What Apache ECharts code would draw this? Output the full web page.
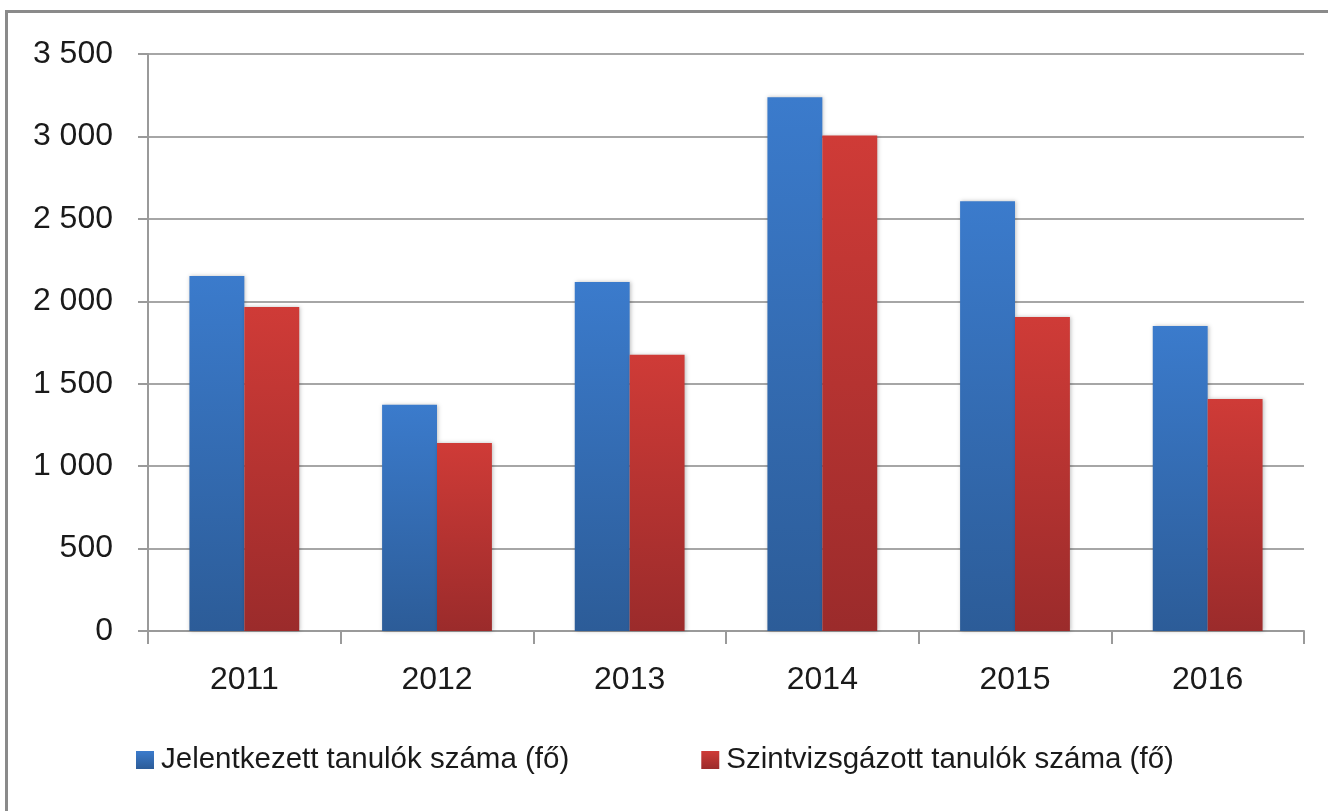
<!DOCTYPE html>
<html>
<head>
<meta charset="utf-8">
<script src="https://cdn.jsdelivr.net/npm/echarts@6/dist/echarts.min.js"></script>
<style>
html,body{margin:0;padding:0;background:#fff;}
#chart{width:1328px;height:811px;}
</style>
</head>
<body>
<div id="chart"></div>
<script>
const categories = ['2011', '2012', '2013', '2014', '2015', '2016'];
const seriesNames = ['Jelentkezett tanulók száma (fő)', 'Szintvizsgázott tanulók száma (fő)'];
const jelentkezett = [2153, 1372, 2117, 3237, 2607, 1850];
const szintvizsgazott = [1966, 1140, 1675, 3005, 1905, 1407];
const yTicks = [0, 500, 1000, 1500, 2000, 2500, 3000, 3500];

const FONT = 'Liberation Sans';
const chart = echarts.init(document.getElementById('chart'), null, {renderer: 'canvas'});

function grad(top, bottom) {
  return new echarts.graphic.LinearGradient(0, 0, 0, 1, [
    {offset: 0, color: top}, {offset: 1, color: bottom}
  ]);
}
function fmt(v) {
  return String(v).replace(/\B(?=(\d{3})+(?!\d))/g, ' ');
}

chart.setOption({
  animation: false,
  backgroundColor: '#ffffff',
  textStyle: {fontFamily: FONT},
  graphic: [
    {type: 'rect', shape: {x: 5, y: 10, width: 1323, height: 3}, style: {fill: '#8a8a8a'}, silent: true},
    {type: 'rect', shape: {x: 5, y: 10, width: 3, height: 801}, style: {fill: '#8a8a8a'}, silent: true}
  ],
  grid: {left: 148, right: 24, top: 54, bottom: 180, containLabel: false},
  legend: {
    left: 131,
    top: 740,
    itemWidth: 18,
    itemHeight: 18,
    itemGap: 132,
    icon: 'rect',
    textStyle: {fontFamily: FONT, fontSize: 29.5, color: '#1a1a1a', padding: [0, 0, 0, 2]},
    data: seriesNames
  },
  xAxis: {
    type: 'category',
    data: categories,
    boundaryGap: true,
    axisLine: {show: true, lineStyle: {color: '#9a9a9a', width: 2}},
    axisTick: {show: true, length: 13, lineStyle: {color: '#9a9a9a', width: 2}},
    axisLabel: {fontFamily: FONT, fontSize: 32, color: '#1a1a1a', margin: 33}
  },
  yAxis: {
    type: 'value',
    min: 0,
    max: 3500,
    interval: 500,
    axisLine: {show: true, lineStyle: {color: '#9a9a9a', width: 2}},
    axisTick: {show: true, length: 10, lineStyle: {color: '#9a9a9a', width: 2}},
    splitLine: {show: true, lineStyle: {color: '#a6a6a6', width: 2}},
    axisLabel: {fontFamily: FONT, fontSize: 32, color: '#1a1a1a', margin: 35, formatter: fmt}
  },
  series: [
    {
      name: seriesNames[0],
      type: 'bar',
      data: jelentkezett,
      barGap: '0%',
      barCategoryGap: '43%',
      itemStyle: {
        color: grad('#3b7bcc', '#2c5c98'),
        shadowColor: 'rgba(0,0,0,0.25)', shadowBlur: 4, shadowOffsetX: 1, shadowOffsetY: 0
      }
    },
    {
      name: seriesNames[1],
      type: 'bar',
      data: szintvizsgazott,
      barGap: '0%',
      barCategoryGap: '43%',
      itemStyle: {
        color: grad('#cf3b37', '#9b2b2b'),
        shadowColor: 'rgba(0,0,0,0.25)', shadowBlur: 4, shadowOffsetX: 1, shadowOffsetY: 0
      }
    }
  ]
});
</script>
</body>
</html>
